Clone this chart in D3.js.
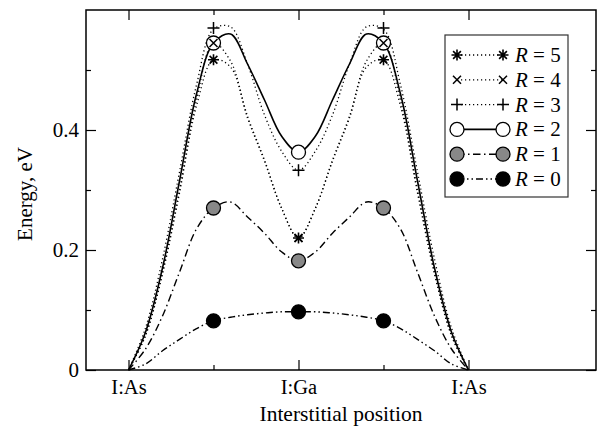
<!DOCTYPE html>
<html><head><meta charset="utf-8">
<script src="https://cdn.jsdelivr.net/npm/d3@7"></script>
<style>
body{margin:0;background:#fff;}
svg text{font-family:"Liberation Serif","Times New Roman",serif;fill:#000;}
</style></head>
<body><svg id="c" width="597" height="428"></svg>
<script>
// ---- data ----
const xs = [0,0.1,0.2,0.3,0.4,0.5,0.6,0.7,0.8,0.9,1.0,1.1,1.2,1.3,1.4,1.5,1.6,1.7,1.8,1.9,2.0];
const r5 = [0,0.057,0.16,0.295,0.44,0.517,0.505,0.42,0.348,0.27,0.22,0.27,0.348,0.42,0.505,0.517,0.44,0.295,0.16,0.057,0];
const r4 = [0,0.058,0.163,0.3,0.45,0.545,0.515,0.423,0.35,0.27,0.22,0.27,0.35,0.423,0.515,0.545,0.45,0.3,0.163,0.058,0];
const r3 = [0,0.07,0.185,0.33,0.475,0.568,0.572,0.51,0.425,0.365,0.333,0.365,0.425,0.51,0.572,0.568,0.475,0.33,0.185,0.07,0];
const r2 = [0,0.063,0.17,0.315,0.46,0.545,0.56,0.51,0.45,0.39,0.363,0.39,0.45,0.51,0.56,0.545,0.46,0.315,0.17,0.063,0];
const r1 = [0,0.035,0.09,0.163,0.235,0.27,0.28,0.255,0.228,0.197,0.182,0.197,0.228,0.255,0.28,0.27,0.235,0.163,0.09,0.035,0];
const r0 = [0,0.01,0.032,0.051,0.069,0.082,0.088,0.092,0.095,0.097,0.097,0.097,0.095,0.092,0.088,0.082,0.069,0.051,0.032,0.01,0];
const markerX = [0.5,1,1.5];
const m5 = [0.517,0.22,0.517];
const m4 = [0.545,0.22,0.545];
const m3 = [0.57,0.333,0.57];
const m2 = [0.545,0.363,0.545];
const m1 = [0.27,0.182,0.27];
const m0 = [0.082,0.097,0.082];
const xTickVals = [0,1,2];
const xTickLabels = ["I:As","I:Ga","I:As"];
const xMinorVals = [0.5,1.5];
const yTickVals = [0,0.2,0.4];
const yTickLabels = ["0","0.2","0.4"];
const yMinorVals = [0.1,0.3,0.5];
const legendLabels = ["5","4","3","2","1","0"];

// ---- layout ----
const svg = d3.select("#c");
const L=86, R=596, T=10, B=370;
const x = d3.scaleLinear().domain([-0.25,2.75]).range([L,R]);
const y = d3.scaleLinear().domain([0,0.6]).range([B,T]);

const styles = {
  "5":{dash:"1.2,2.8", w:1.3, marker:"star", vals:r5, m:m5},
  "4":{dash:"1.2,2.8", w:1.3, marker:"times", vals:r4, m:m4},
  "3":{dash:"1.2,2.8", w:1.3, marker:"plus", vals:r3, m:m3},
  "2":{dash:null, w:1.6, marker:"open", vals:r2, m:m2},
  "1":{dash:"7.5,3.5,1.5,3.5", w:1.4, marker:"grey", vals:r1, m:m1},
  "0":{dash:"7,3,1.5,3,1.5,3", w:1.4, marker:"black", vals:r0, m:m0}
};

// axes (inward ticks)
function styleAxis(g){ g.select(".domain").remove(); g.selectAll("line").attr("stroke","#000").attr("stroke-width",1.2); }
svg.append("g").attr("transform",`translate(0,${B})`)
  .call(d3.axisBottom(x).tickValues(xTickVals).tickSize(-10).tickPadding(9).tickFormat((d,i)=>xTickLabels[i]))
  .call(styleAxis).selectAll("text").attr("font-size",20.5);
svg.append("g").attr("transform",`translate(0,${B})`)
  .call(d3.axisBottom(x).tickValues(xMinorVals).tickSize(-5).tickFormat("")).call(styleAxis);
svg.append("g").attr("transform",`translate(0,${T})`)
  .call(d3.axisTop(x).tickValues(xTickVals).tickSize(-10).tickFormat("")).call(styleAxis);
svg.append("g").attr("transform",`translate(0,${T})`)
  .call(d3.axisTop(x).tickValues(xMinorVals).tickSize(-5).tickFormat("")).call(styleAxis);
svg.append("g").attr("transform",`translate(${L},0)`)
  .call(d3.axisLeft(y).tickValues(yTickVals).tickSize(-10).tickPadding(7).tickFormat((d,i)=>yTickLabels[i]))
  .call(styleAxis).selectAll("text").attr("font-size",21);
svg.append("g").attr("transform",`translate(${L},0)`)
  .call(d3.axisLeft(y).tickValues(yMinorVals).tickSize(-5).tickFormat("")).call(styleAxis);
svg.append("g").attr("transform",`translate(${R},0)`)
  .call(d3.axisRight(y).tickValues(yTickVals).tickSize(-10).tickFormat("")).call(styleAxis);
svg.append("g").attr("transform",`translate(${R},0)`)
  .call(d3.axisRight(y).tickValues(yMinorVals).tickSize(-5).tickFormat("")).call(styleAxis);
svg.selectAll(".tick text").attr("fill","#000");
svg.append("rect").attr("x",L).attr("y",T).attr("width",R-L).attr("height",B-T)
  .attr("fill","none").attr("stroke","#000").attr("stroke-width",1.5);

// axis titles
svg.append("text").attr("x",341).attr("y",421).attr("text-anchor","middle")
  .attr("font-size",21.5).text("Interstitial position");
svg.append("text").attr("transform","translate(32,194) rotate(-90)").attr("text-anchor","middle")
  .attr("font-size",21).text("Energy, eV");

// curves
const line = d3.line().x((d,i)=>x(xs[i])).y(d=>y(d)).curve(d3.curveCatmullRom.alpha(0.5));
const plot = svg.append("g");
["0","1","3","4","5","2"].forEach(k=>{
  const s = styles[k];
  plot.append("path").attr("d",line(s.vals)).attr("fill","none").attr("stroke","#000")
    .attr("stroke-width",s.w).attr("stroke-dasharray",s.dash).attr("stroke-linecap","butt");
});

// markers
function drawMarker(g,type,cx,cy){
  if(type==="open"||type==="grey"||type==="black"){
    g.append("circle").attr("cx",cx).attr("cy",cy).attr("r",7)
      .attr("fill",type==="open"?"#fff":type==="grey"?"#888":"#000")
      .attr("stroke","#000").attr("stroke-width",1.3);
  } else if(type==="plus"){
    const r=6;
    g.append("path").attr("d",`M${cx-r},${cy}H${cx+r}M${cx},${cy-r}V${cy+r}`).attr("stroke","#000").attr("stroke-width",1.5);
  } else if(type==="times"){
    const r=4;
    g.append("path").attr("d",`M${cx-r},${cy-r}L${cx+r},${cy+r}M${cx-r},${cy+r}L${cx+r},${cy-r}`).attr("stroke","#000").attr("stroke-width",1.5);
  } else if(type==="star"){
    const r=5.5; let d="";
    for(let a=0;a<4;a++){const t=a*Math.PI/4; d+=`M${cx-r*Math.cos(t)},${cy-r*Math.sin(t)}L${cx+r*Math.cos(t)},${cy+r*Math.sin(t)}`;}
    g.append("path").attr("d",d).attr("stroke","#000").attr("stroke-width",1.6);
  }
}
const mg = svg.append("g");
["0","1","2","3","4","5"].forEach(k=>{
  const s=styles[k];
  s.m.forEach((v,i)=>drawMarker(mg,s.marker,x(markerX[i]),y(v)));
});

// legend
const lg = svg.append("g");
lg.append("rect").attr("x",445).attr("y",35).attr("width",123).attr("height",162)
  .attr("fill","#fff").attr("stroke","#333").attr("stroke-width",1.2);
legendLabels.forEach((k,i)=>{
  const s=styles[k]; const yy=55+i*24.8;
  lg.append("line").attr("x1",457).attr("x2",503).attr("y1",yy).attr("y2",yy)
    .attr("stroke","#000").attr("stroke-width",s.w).attr("stroke-dasharray",s.dash);
  drawMarker(lg,s.marker,457,yy); drawMarker(lg,s.marker,503,yy);
  const t=lg.append("text").attr("x",515).attr("y",yy+7).attr("font-size",21);
  t.append("tspan").attr("font-style","italic").text("R");
  t.append("tspan").text(" = "+k);
});
</script></body></html>
